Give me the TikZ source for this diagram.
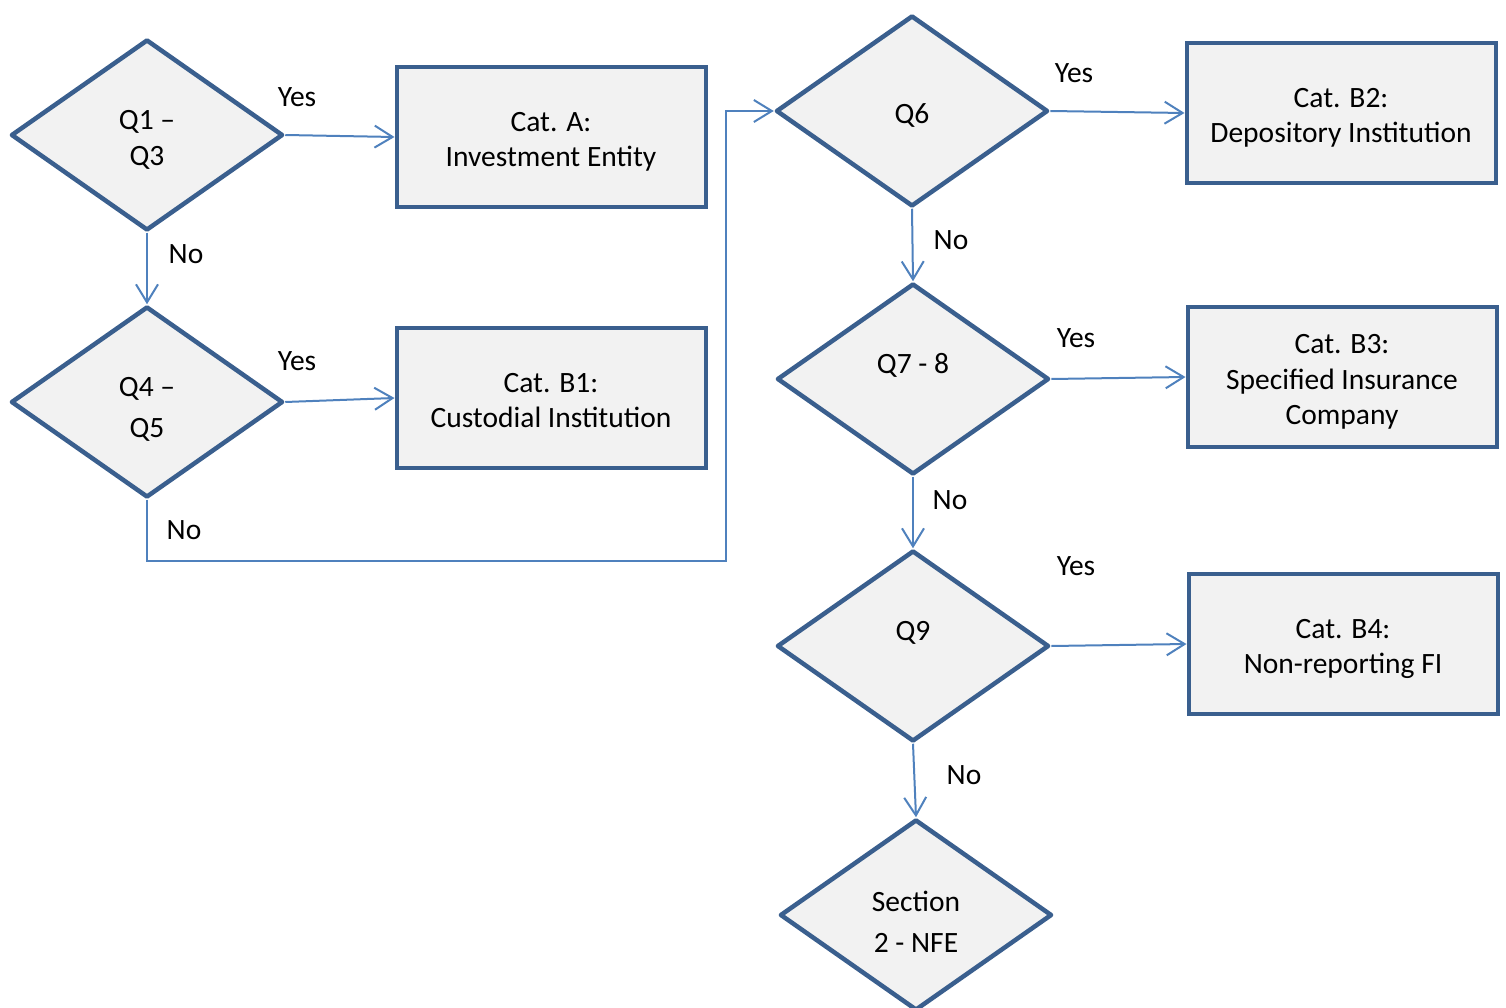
\documentclass[tikz,border=0pt]{standalone}
\usepackage{fontspec}
\setmainfont{Carlito}
\usetikzlibrary{shapes.geometric,arrows.meta}
\definecolor{bordc}{HTML}{3A5F8E}
\definecolor{linec}{HTML}{4F81BD}
\definecolor{fillc}{HTML}{F2F2F2}
\newcommand\lowtxt[2][5pt]{\raisebox{-#1}[\height][\depth]{\begin{tabular}{@{}c@{}}#2\end{tabular}}}
\tikzset{
  decision/.style={diamond, draw=bordc, fill=fillc, line width=4.5pt, line join=round,
    minimum width=272pt, minimum height=191pt, inner sep=0pt, align=center,
    font=\fontsize{29.5}{36}\selectfont},
  catbox/.style={rectangle, draw=bordc, fill=fillc, line width=4pt,
    minimum width=309pt, minimum height=140pt, inner sep=0pt, align=center,
    font=\fontsize{29.5}{35.5}\selectfont},
  conn/.style={draw=linec, line width=2pt, -{Straight Barb[length=18pt,width=22pt]}},
  lbl/.style={font=\fontsize{29.5}{34}\selectfont, inner sep=0pt}
}
\begin{document}
\begin{tikzpicture}[x=1pt,y=-1pt]
\useasboundingbox (0,0) rectangle (1506,1008);
% decisions
\node[decision] (d1) at (147,135) {\lowtxt{Q1 –\\Q3}};
\node[decision, font=\fontsize{29.5}{41}\selectfont] (d2) at (147,402) {\lowtxt[7pt]{Q4 –\\Q5}};
\node[decision] (d6) at (912,111) {\lowtxt{Q6}};
\node[decision] (d7) at (913,379) {\lowtxt{Q7 - 8\\\mbox{}}};
\node[decision] (d9) at (913,646) {\lowtxt{Q9\\\mbox{}}};
\node[decision, font=\fontsize{29.5}{41}\selectfont] (d10) at (916,915) {\lowtxt[9pt]{Section\\2 - NFE}};
% boxes
\node[catbox] (ba) at (551,137) {\lowtxt{Cat. A:\\Investment Entity}};
\node[catbox] (bb1) at (551,398) {\lowtxt{Cat. B1:\\Custodial Institution}};
\node[catbox] (bb2) at (1341,113) {\lowtxt{Cat. B2:\\Depository Institution}};
\node[catbox] (bb3) at (1342,377) {\lowtxt{Cat. B3:\\Specified Insurance\\Company}};
\node[catbox] (bb4) at (1343,644) {\lowtxt{Cat. B4:\\Non-reporting FI}};
% connectors
\coordinate (bend) at (726,561);
\draw[conn] (d1.east) -- (ba.west);
\draw[conn] (d1.south) -- (d2.north);
\draw[conn] (d2.east) -- (bb1.west);
\draw[conn] (d2.south) |- (bend) |- (d6.west);
\draw[conn] (d6.east) -- (bb2.west);
\draw[conn] (d6.south) -- (d7.north);
\draw[conn] (d7.east) -- (bb3.west);
\draw[conn] (d7.south) -- (d9.north);
\draw[conn] (d9.east) -- (bb4.west);
\draw[conn] (d9.south) -- (d10.north);
% labels
\node[lbl] (y1) at (297,97) {Yes};
\node[lbl] (n1) at (186,254) {No};
\node[lbl] (y2) at (297,361) {Yes};
\node[lbl] (n2) at (184,530) {No};
\node[lbl] (y6) at (1074,73) {Yes};
\node[lbl] (n6) at (951,240) {No};
\node[lbl] (y7) at (1076,338) {Yes};
\node[lbl] (n7) at (950,500) {No};
\node[lbl] (y9) at (1076,566) {Yes};
\node[lbl] (n9) at (964,775) {No};
\end{tikzpicture}
\end{document}
